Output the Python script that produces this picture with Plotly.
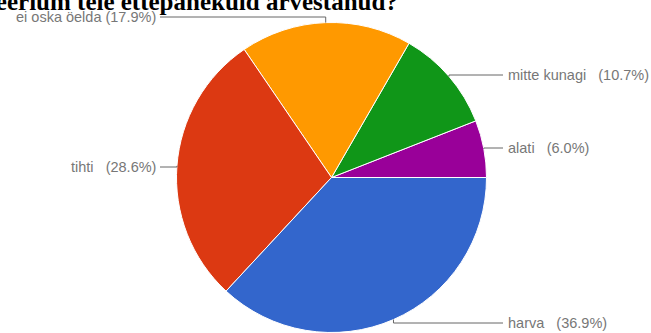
import math
import plotly.graph_objects as go

# Survey answers (counted responses), drawn counter-clockwise from 3 o'clock
answers = ["alati", "mitte kunagi", "ei oska öelda", "tihti", "harva"]
counts = [5, 9, 15, 24, 31]
colors = ["#990099", "#109618", "#ff9900", "#dc3912", "#3366cc"]
label_gap = ["   ", "   ", " ", "   ", "   "]

question = "Kui sageli on ministeerium teie ettepanekuid arvestanud?"

W, H = 651, 333
CX, CY, R = 331.5, 177.5, 155.0

# label placement: side of the pie and the text row (pixels from top)
label_side = ["right", "right", "left", "left", "right"]
label_row = [148, 75, 17, 167, 323]
RIGHT_TEXT_X = 507
LEFT_TEXT_X = 157


def px(x):
    return x / W


def py(y):
    return 1 - y / H


total = sum(counts)
percents = [100.0 * c / total for c in counts]

# plotly ends the first counter-clockwise slice at the rotation point,
# so shift by that slice to make the pie start at 3 o'clock
first_slice_deg = 360.0 * counts[0] / total

fig = go.Figure(
    go.Pie(
        labels=answers,
        values=counts,
        sort=False,
        direction="counterclockwise",
        rotation=90 - first_slice_deg,
        marker=dict(colors=colors, line=dict(color="white", width=1)),
        textinfo="none",
        hoverinfo="label+percent",
        showlegend=False,
        domain=dict(x=[px(CX - R), px(CX + R)], y=[py(CY + R), py(CY - R)]),
    )
)

shapes = []
annotations = []
cum = 0
for name, c, pct, gap, side, row in zip(answers, counts, percents, label_gap, label_side, label_row):
    mid = 2 * math.pi * (cum + c / 2) / total
    cum += c
    ex = CX + R * math.cos(mid)
    ey = CY - R * math.sin(mid)
    tx = RIGHT_TEXT_X if side == "right" else LEFT_TEXT_X
    line_end = tx - 4 if side == "right" else tx + 3
    path = f"M {px(ex)},{py(ey)} L {px(ex)},{py(row)} L {px(line_end)},{py(row)}"
    shapes.append(dict(type="path", xref="paper", yref="paper", path=path,
                       line=dict(color="#666666", width=1)))
    annotations.append(dict(
        x=px(tx), y=py(row), xref="paper", yref="paper",
        xanchor="left" if side == "right" else "right", yanchor="middle",
        text=f"{name}{gap}({pct:.1f}%)".replace(" ", "&nbsp;"),
        showarrow=False, borderpad=0,
        font=dict(family="Liberation Sans, Arial, sans-serif", size=14.5, color="#777777"),
    ))

annotations.append(dict(
    x=px(399), y=py(1.5), xref="paper", yref="paper",
    xanchor="right", yanchor="middle",
    text=f"<b>{question}</b>", showarrow=False, borderpad=0,
    font=dict(family="Liberation Serif, Times New Roman, serif", size=25, color="#000000"),
))

fig.update_layout(
    width=W, height=H,
    margin=dict(l=0, r=0, t=0, b=0),
    paper_bgcolor="white", plot_bgcolor="white",
    shapes=shapes, annotations=annotations,
)

fig.write_html("out.html")
